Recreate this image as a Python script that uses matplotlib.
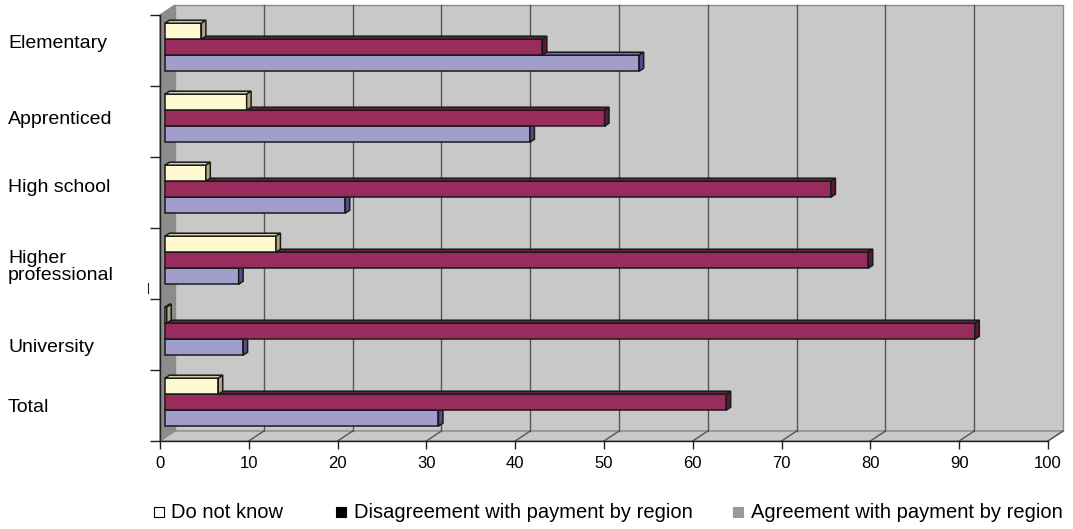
import numpy as np
import matplotlib.pyplot as plt
from matplotlib.patches import Polygon, Rectangle
from matplotlib.lines import Line2D

plt.rcParams['font.family'] = ['Liberation Sans', 'DejaVu Sans']

categories = ['Elementary', 'Apprenticed', 'High school', 'Higher\nprofessional', 'University', 'Total']
dont_know = [4.1, 9.2, 4.6, 12.5, 0.2, 6.0]
disagreement = [42.5, 49.5, 75.0, 79.2, 91.2, 63.2]
agreement = [53.4, 41.1, 20.3, 8.3, 8.8, 30.8]
series_names = ['Do not know', 'Disagreement with payment by region', 'Agreement with payment by region']
x_ticks = np.arange(0, 101, 10)

# face colours per series: front, top, side
series_colors = [
    ('#FFF9D2', '#D3D0A6', '#ADAA80'),
    ('#982C5C', '#6C1E41', '#5A1937'),
    ('#A19ECC', '#6C6BAE', '#50508C'),
]
EDGE = '#1a1a1a'
WALL = '#C8C8C8'
SIDE_WALL = '#8C8C8C'
WALL_EDGE = '#8A8A8A'
GRID = '#555555'

W, H = 1073, 529
fig = plt.figure(figsize=(W / 100, H / 100), dpi=100)

# front plane of the box, in pixels
left_px, right_px, top_px, bottom_px = 160, 1048, 15, 441
ax = fig.add_axes([left_px / W, 1 - bottom_px / H,
                   (right_px - left_px) / W, (bottom_px - top_px) / H])
n = len(categories)
ax.set_xlim(0, 100)
ax.set_ylim(0, n)
ax.patch.set_visible(False)

px_x = 100 / (right_px - left_px)
px_y = n / (bottom_px - top_px)
DX, DY = 15 * px_x, 10 * px_y      # depth of the box
F0, F1 = 0.33, 0.63                # bar front / back position inside the depth
BAR_H = 16 * px_y


def poly(pts, fc, ec, lw, z):
    ax.add_patch(Polygon(pts, closed=True, facecolor=fc, edgecolor=ec,
                         linewidth=lw, zorder=z, clip_on=False, joinstyle='miter'))


# walls and floor
poly([(DX, DY), (100 + DX, DY), (100 + DX, n + DY), (DX, n + DY)], WALL, WALL_EDGE, 1.0, 0.5)
poly([(0, 0), (DX, DY), (DX, n + DY), (0, n)], SIDE_WALL, WALL_EDGE, 1.0, 0.6)
poly([(0, 0), (100, 0), (100 + DX, DY), (DX, DY)], WALL, WALL_EDGE, 1.0, 0.6)
for k in x_ticks[1:-1]:
    ax.add_line(Line2D([k + DX, k + DX], [DY, n + DY], color=GRID, lw=1.0, zorder=0.7, clip_on=False))
for k in x_ticks[1:]:
    ax.add_line(Line2D([k, k + DX], [0, DY], color=GRID, lw=1.0, zorder=0.7, clip_on=False))


def draw_bar(yc, v, colors, z):
    front, top, side = colors
    x0 = F0 * DX
    y = yc + F0 * DY
    ddx, ddy = (F1 - F0) * DX, (F1 - F0) * DY
    ax.barh(y, v, height=BAR_H, left=x0, color=front, edgecolor=EDGE, linewidth=1.1, zorder=z)
    yt, yb = y + BAR_H / 2, y - BAR_H / 2
    poly([(x0, yt), (x0 + v, yt), (x0 + v + ddx, yt + ddy), (x0 + ddx, yt + ddy)], top, EDGE, 1.1, z)
    poly([(x0 + v, yb), (x0 + v, yt), (x0 + v + ddx, yt + ddy), (x0 + v + ddx, yb + ddy)], side, EDGE, 1.1, z)


series = [dont_know, disagreement, agreement]
for i in range(n):
    yc = n - i - 0.5
    for j in (2, 1, 0):
        draw_bar(yc + BAR_H * (1 - j), series[j][i], series_colors[j], 3 + (2 - j))

# axes lines and ticks
for s in ('top', 'right'):
    ax.spines[s].set_visible(False)
for s in ('left', 'bottom'):
    ax.spines[s].set_color('#202020')
    ax.spines[s].set_linewidth(1.0)
ax.set_xticks(x_ticks)
ax.set_xticklabels([str(t) for t in x_ticks])
ax.set_yticks(np.arange(n + 1))
ax.set_yticklabels([])
ax.tick_params(axis='x', direction='out', length=6, width=1, pad=5, labelsize=12, color='#202020')
ax.tick_params(axis='y', direction='out', length=7, width=1, color='#202020')

# category labels
label_y_px = [43, 119, 187, 267, 347, 407]
for lab, ypx in zip(categories, label_y_px):
    fig.text(8 / W, 1 - ypx / H, lab, ha='left', va='center', fontsize=14, linespacing=0.95)

fig.add_artist(Line2D([148 / W, 148 / W], [1 - 283 / H, 1 - 293 / H], color='#202020', lw=0.8))

# legend row: square marker then name
leg_y = 512
marker_style = [('white', 'black'), ('black', 'black'), ('#999999', '#999999')]
marker_x = [154, 336, 733]
text_x = [171, 354, 751]
for (fc, ec), mx, name, tx in zip(marker_style, marker_x, series_names, text_x):
    fig.add_artist(Rectangle((mx / W, 1 - (leg_y + 5) / H), 10 / W, 10 / H,
                             facecolor=fc, edgecolor=ec, linewidth=0.8,
                             transform=fig.transFigure))
    fig.text(tx / W, 1 - leg_y / H, name, ha='left', va='center', fontsize=14.5)

fig.savefig('out.png', dpi=100)
